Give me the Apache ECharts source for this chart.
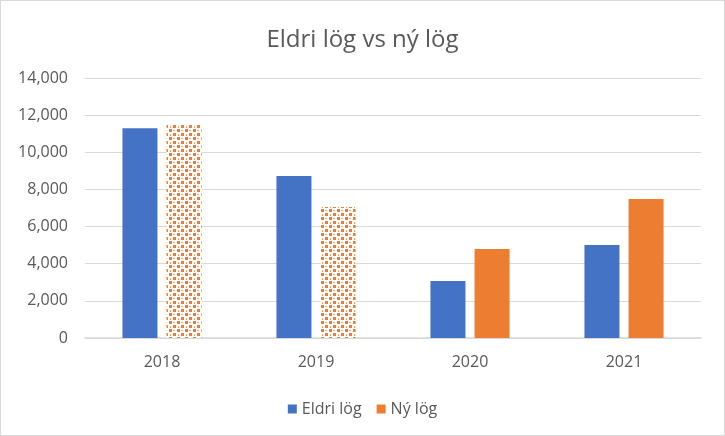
<!DOCTYPE html>
<html><head><meta charset="utf-8">
<script src="https://cdn.jsdelivr.net/npm/echarts@6/dist/echarts.min.js"></script>
<style>html,body{margin:0;padding:0;background:#fff}#c{width:723px;height:434px;border:1px solid #D9D9D9}</style>
</head><body><div id="c"></div>
<script>
const categories = ['2018','2019','2020','2021'];
const eldriLog = [11300, 8720, 3070, 5010];
const nyLog = [11520, 7050, 4790, 7490];
const patternedCategories = ['2018','2019'];
const seriesNames = ['Eldri lög','Ný lög'];

function makePattern(){
  const c = document.createElement('canvas');
  c.width = 8; c.height = 8;
  const g = c.getContext('2d');
  g.fillStyle = '#fff'; g.fillRect(0,0,8,8);
  g.fillStyle = '#ED7D31';
  // trellis-like motif: 2x2 blocks on a checker with 1px connectors
  g.fillRect(0,0,3,3); g.fillRect(4,4,3,3);
  g.fillStyle = '#F4A06A';
  g.fillRect(4,1,2,1); g.fillRect(1,5,1,2);
  return c;
}
const pat = {image: makePattern(), repeat: 'repeat'};

const chart = echarts.init(document.getElementById('c'));
chart.setOption({
  animation:false,
  title:{text:'Eldri lög vs ný lög', left:'center', top:22, textStyle:{fontFamily:'Open Sans', fontSize:24, fontWeight:'normal', color:'#595959'}},
  grid:{left:84, right:23, top:77, bottom:97},
  legend:{top:395, left:'center', itemWidth:9, itemHeight:9, itemGap:15, icon:'rect',
    textStyle:{fontFamily:'Open Sans', fontSize:16, color:'#595959'}, data:seriesNames},
  xAxis:{type:'category', data:categories, axisTick:{show:false},
    axisLine:{lineStyle:{color:'#D9D9D9', width:1.5}},
    axisLabel:{fontFamily:'Open Sans', fontSize:16, color:'#595959', margin:16}},
  yAxis:{type:'value', min:0, max:14000, interval:2000,
    axisLine:{show:false}, axisTick:{show:false},
    splitLine:{lineStyle:{color:'#D9D9D9'}},
    axisLabel:{fontFamily:'Open Sans', fontSize:16, color:'#595959', margin:17,
      formatter:v=>v.toLocaleString('en-US')}},
  series:[
    {name:seriesNames[0], type:'bar', data:eldriLog, barWidth:35, barGap:'26%', itemStyle:{color:'#4472C4'}},
    {name:seriesNames[1], type:'bar', data:nyLog.map((v,i)=>patternedCategories.includes(categories[i]) ? {value:v, itemStyle:{color:pat}} : v),
      barWidth:35, itemStyle:{color:'#ED7D31'}}
  ]
});
</script></body></html>
